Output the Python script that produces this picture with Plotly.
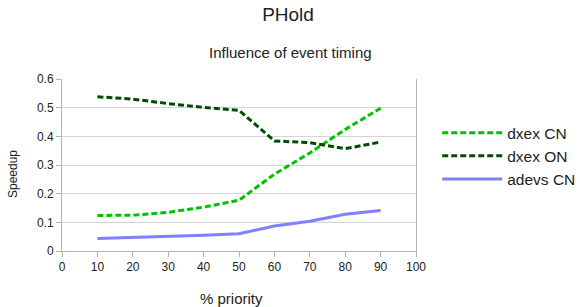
import plotly.graph_objects as go

priority = [10, 20, 30, 40, 50, 60, 70, 80, 90]
dxex_cn = [0.124, 0.125, 0.135, 0.153, 0.177, 0.268, 0.342, 0.424, 0.498]
dxex_on = [0.538, 0.530, 0.514, 0.501, 0.491, 0.384, 0.378, 0.357, 0.380]
adevs_cn = [0.044, 0.047, 0.050, 0.055, 0.060, 0.087, 0.104, 0.128, 0.141]

x_ticks = list(range(0, 101, 10))
y_ticks = [0, 0.1, 0.2, 0.3, 0.4, 0.5, 0.6]
y_tick_labels = ["0", "0.1", "0.2", "0.3", "0.4", "0.5", "0.6"]

FONT = "Liberation Sans, Arial, sans-serif"
AXIS = "#b3b3b3"
GRID = "#d4d4d4"

fig = go.Figure()
fig.add_trace(go.Scatter(x=priority, y=dxex_cn, name="dxex CN", mode="lines",
                         line=dict(color="#00c000", width=3, dash="6px,3px")))
fig.add_trace(go.Scatter(x=priority, y=dxex_on, name="dxex ON", mode="lines",
                         line=dict(color="#004c00", width=3, dash="6px,3px")))
fig.add_trace(go.Scatter(x=priority, y=adevs_cn, name="adevs CN", mode="lines",
                         line=dict(color="#7f7fff", width=3)))

fig.update_layout(
    width=580, height=307,
    margin=dict(l=62, r=164, t=79, b=56, autoexpand=False),
    paper_bgcolor="white", plot_bgcolor="white",
    font=dict(family=FONT, color="#222222", size=12),
    title=dict(text="PHold", x=288 / 580, xref="container", xanchor="center",
               y=1 - 14 / 307, yref="container", yanchor="middle",
               font=dict(size=19, color="#222222")),
    showlegend=True,
    legend=dict(x=1.06, xref="paper", xanchor="left", y=0.552, yanchor="middle",
                itemwidth=60, font=dict(size=15.5, color="#222222"),
                bgcolor="rgba(0,0,0,0)", tracegroupgap=0),
    xaxis=dict(range=[0, 100], tickvals=x_ticks, ticks="outside", ticklen=5,
               tickcolor=AXIS, showgrid=False, showline=True, linecolor=AXIS,
               linewidth=1, zeroline=False, automargin=False,
               tickfont=dict(size=12, color="#222222")),
    yaxis=dict(range=[0, 0.6], tickvals=y_ticks, ticktext=y_tick_labels,
               ticks="outside", ticklen=5, tickcolor=AXIS, showgrid=True,
               gridcolor=GRID, showline=True, linecolor=AXIS, mirror=True,
               linewidth=1, zeroline=False, automargin=False,
               tickfont=dict(size=12, color="#222222")),
    annotations=[
        dict(text="Influence of event timing", xref="paper", yref="paper",
             x=(290.5 - 62) / 354, y=(251 - 53) / 172, xanchor="center",
             yanchor="middle", showarrow=False, font=dict(size=15, color="#222222")),
        dict(text="% priority", xref="paper", yref="paper",
             x=(231 - 62) / 354, y=(251 - 298) / 172, xanchor="center",
             yanchor="middle", showarrow=False, font=dict(size=15, color="#222222")),
        dict(text="Speedup", xref="paper", yref="paper", textangle=-90,
             x=(13 - 62) / 354, y=(251 - 174) / 172, xanchor="center",
             yanchor="middle", showarrow=False, font=dict(size=12, color="#222222")),
    ],
)

fig.write_html("out.html", config={"displayModeBar": False},
               post_script="document.body.style.margin='0px';document.body.style.overflow='hidden';")
